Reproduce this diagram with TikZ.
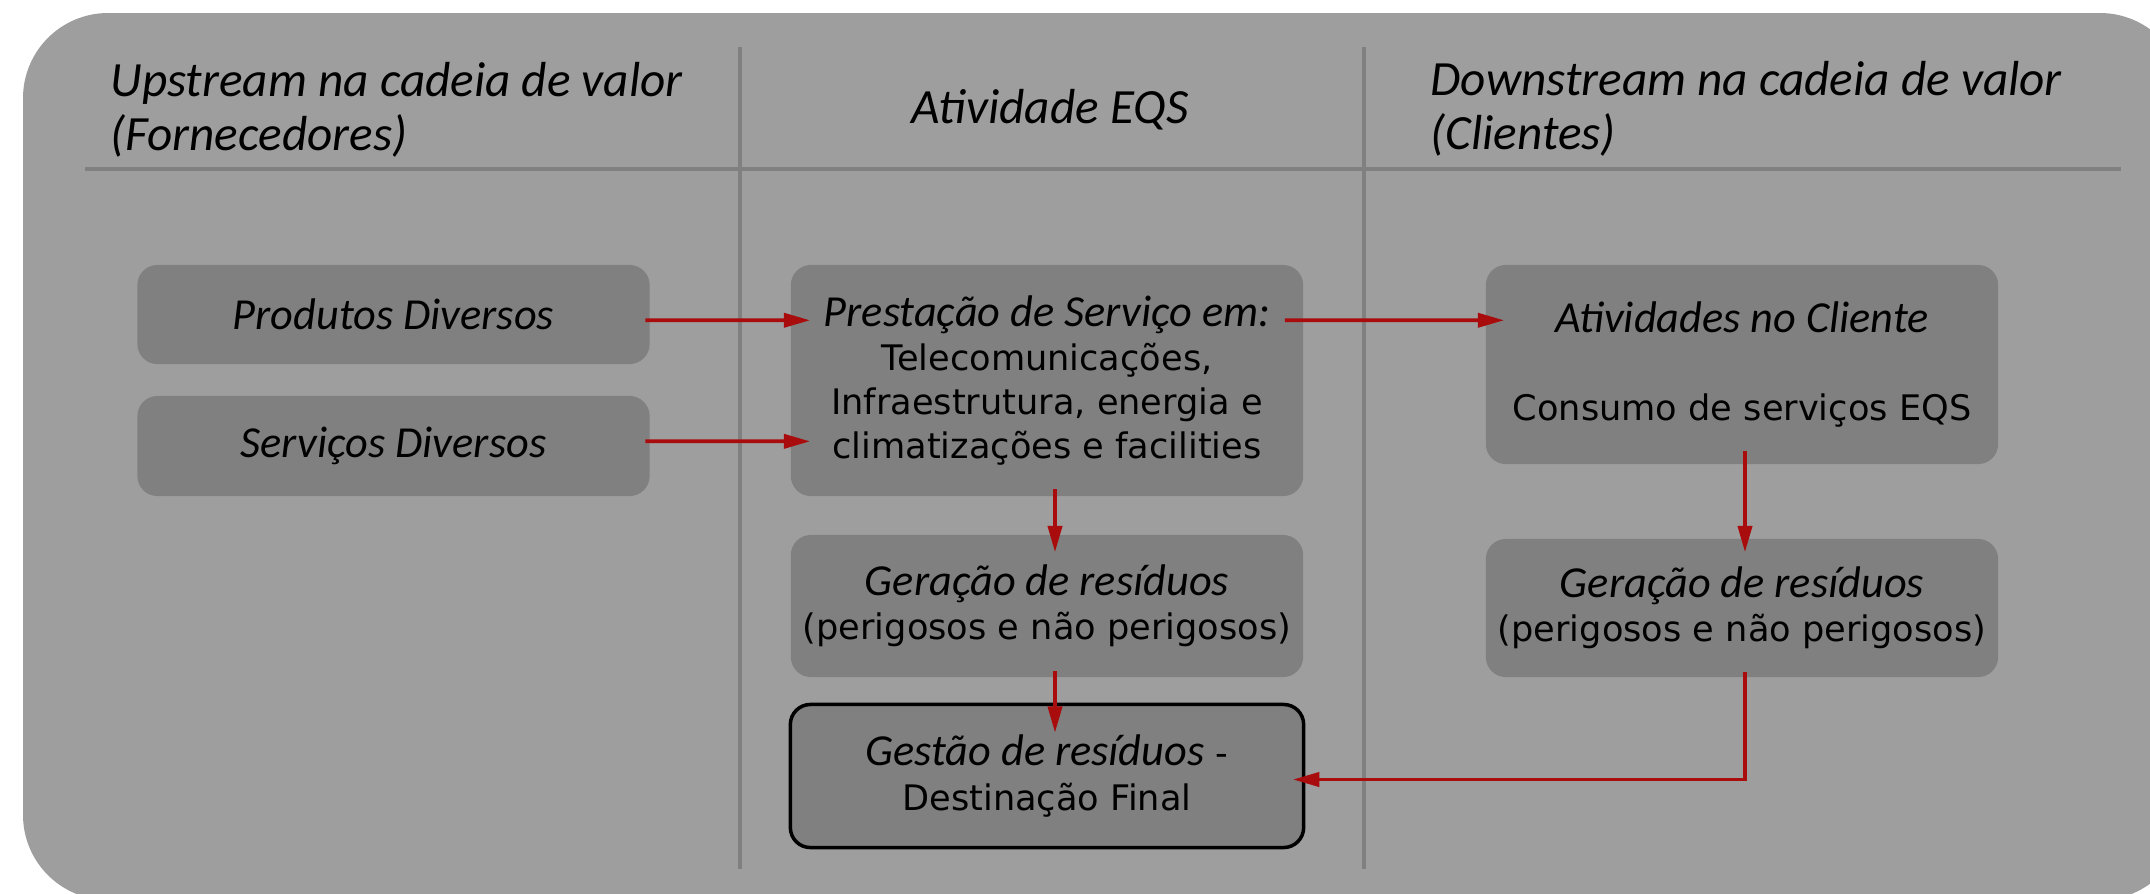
\documentclass[tikz,border=0pt]{standalone}
\usepackage{fontspec}
\setmainfont{DejaVu Sans}
\newfontfamily\calfont{Carlito}
\usetikzlibrary{arrows.meta}

\definecolor{panelgray}{HTML}{9E9E9E}
\definecolor{boxgray}{HTML}{808080}
\definecolor{flowred}{HTML}{A80C0C}

\newcommand{\emtxt}[1]{{\calfont\itshape\fontsize{12.6}{12.6}\selectfont #1}}

\tikzset{
    box/.style={fill=boxgray, rounded corners=0.2cm, minimum width=5.12cm, inner sep=0pt,
        align=center, font=\fontsize{10}{12.6}\selectfont},
    flow/.style={draw=flowred, line width=1.05pt, -{Triangle[length=7.5pt,width=4pt]}},
    divider/.style={draw=boxgray, line width=1.2pt},
    hdr/.style={font=\calfont\itshape\fontsize{14}{15.2}\selectfont, inner sep=0pt, align=left}
}

\begin{document}
\begin{tikzpicture}[x=0.01cm, y=-0.01cm]
                \useasboundingbox (0,0) rectangle (2150,893);
                \begin{scope}
                    \clip (0,0) rectangle (2150,893);
                    \fill[panelgray, rounded corners=0.85cm] (23,13) rectangle (2185,900);
                \end{scope}

                % column dividers
                \draw[divider] (85,169) -- (2121,169);
                \draw[divider] (740,47) -- (740,869);
                \draw[divider] (1364,47) -- (1364,869);

                \node[hdr, anchor=base west] (up) at (110,150) {Upstream na cadeia de valor\\(Fornecedores)};
                \node[hdr] (eqs) at (1050,110) {Atividade EQS};
                \node[hdr, anchor=base west] (down) at (1430,149) {Downstream na cadeia de valor\\(Clientes)};

                \node[box, minimum height=0.99cm] (prod) at (393.5,314.5) {\emtxt{Produtos Diversos}};
                \node[box, minimum height=1.00cm] (serv) at (393.5,446) {\emtxt{Serviços Diversos}};
                \node[box, minimum height=2.31cm] (prest) at (1047,380.5) {\emtxt{Prestação de Serviço em:}\\Telecomunicações,\\Infraestrutura, energia e\\climatizações e facilities};
                \node[box, minimum height=1.42cm] (gerA) at (1047,606) {\emtxt{Geração de resíduos}\\(perigosos e não perigosos)};
                \node[box, draw=black, line width=1pt, minimum width=5.13cm, minimum height=1.43cm] (gest) at (1047,776) {\emtxt{Gestão de resíduos} -\\Destinação Final};
                \node[box, minimum height=1.99cm] (ativ) at (1742,364.5) {\emtxt{Atividades no Cliente}\\[12.6pt]Consumo de serviços EQS};
                \node[box, minimum height=1.38cm] (gerB) at (1742,608) {\emtxt{Geração de resíduos}\\(perigosos e não perigosos)};

                \draw[flow] ([xshift=-0.05cm,yshift=-0.56cm]prod.north east) -- ([xshift=0.2cm,yshift=-0.56cm]prest.north west);
                \draw[flow] ([xshift=-0.05cm,yshift=-0.46cm]serv.north east) -- ([xshift=0.2cm,yshift=-1.77cm]prest.north west);
                \draw[flow] ([xshift=-0.19cm,yshift=-0.56cm]prest.north east) -- ([xshift=0.19cm,yshift=-0.56cm]ativ.north west);
                \draw[flow] ([xshift=0.08cm,yshift=0.08cm]prest.south) -- ([xshift=0.08cm,yshift=-0.18cm]gerA.north);
                \draw[flow] ([xshift=0.08cm,yshift=0.07cm]gerA.south) -- ([xshift=0.08cm,yshift=-0.3cm]gest.north);
                \draw[flow] ([xshift=0.03cm,yshift=0.14cm]ativ.south) -- ([xshift=0.03cm,yshift=-0.14cm]gerB.north);
                \draw[flow] ([xshift=0.03cm,yshift=0.06cm]gerB.south) |- ([xshift=-0.125cm,yshift=-0.035cm]gest.east);
\end{tikzpicture}
\end{document}
